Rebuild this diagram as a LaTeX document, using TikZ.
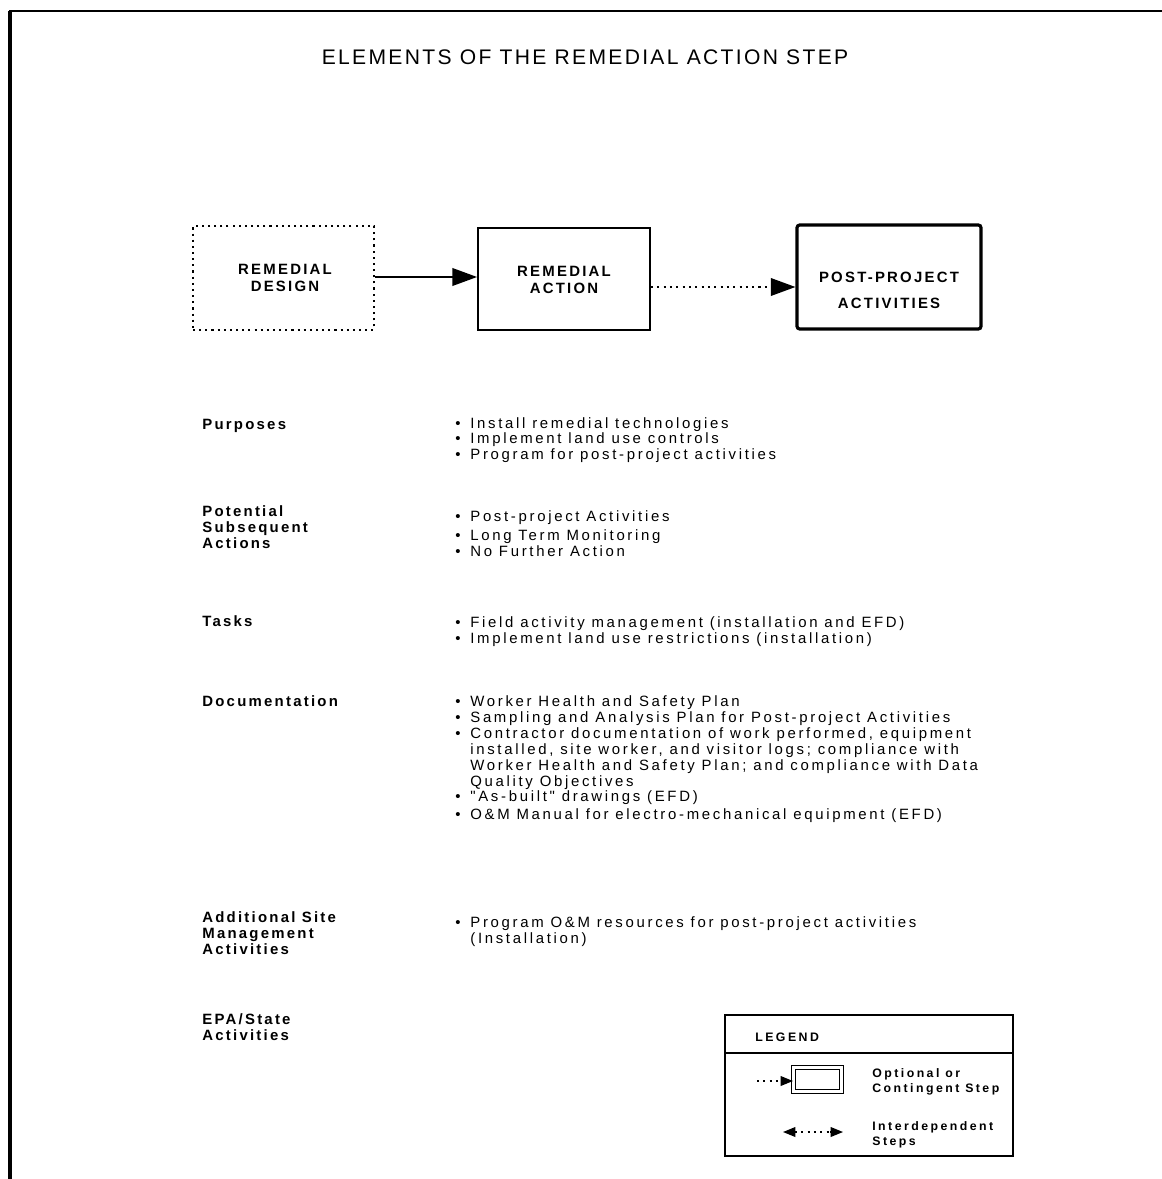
\documentclass[tikz,border=0pt]{standalone}
\usepackage{fontspec}
\setmainfont{Liberation Sans}
\newfontfamily\itemfont[LetterSpace=18]{Liberation Sans}
\newfontfamily\labelfont[LetterSpace=15]{Liberation Sans}
\newfontfamily\legfont[LetterSpace=20]{Liberation Sans}
\newfontfamily\titlefont[LetterSpace=11]{Liberation Sans}
\newfontfamily\boxfont[LetterSpace=15]{Liberation Sans}
\usetikzlibrary{arrows.meta}
\newcommand{\bl}{\llap{\textbullet\hspace{5.5pt}}}
\tikzset{
  itm/.style={anchor=base west, inner sep=0pt, font=\itemfont\fontsize{8.5}{9}\selectfont},
  lbl/.style={anchor=base west, inner sep=0pt, font=\labelfont\bfseries\fontsize{8.5}{9}\selectfont},
  legtxt/.style={anchor=base west, inner sep=0pt, font=\legfont\bfseries\fontsize{7}{8}\selectfont},
  boxtxt/.style={align=center, inner sep=0pt, font=\boxfont\bfseries\fontsize{8.5}{10}\selectfont},
  stepbox/.style={draw, line width=1.1pt, inner sep=0pt},
  optbox/.style={stepbox, line width=1.1pt, dash pattern=on 1.2pt off 2.3pt},
  postbox/.style={stepbox, line width=1.8pt, rounded corners=1.5pt},
  headarrow/.style={-{Triangle[length=14pt,width=10pt]}, line width=1pt},
  dotline/.style={line width=1.2pt, dash pattern=on 1.2pt off 2.4pt},
  smallhead/.style={-{Triangle[length=7pt,width=5.5pt]}},
}
\begin{document}
\begin{tikzpicture}[x=0.02cm, y=-0.02cm]
\useasboundingbox (0,0) rectangle (1162,1179);
% frame
\draw[line width=2.2pt] (10,1179) -- (10,11);
\draw[line width=1.7pt] (9,11) -- (1162,11);
% title
\node[font=\titlefont\fontsize{12}{14}\selectfont, inner sep=0pt] (title) at (585,57) {ELEMENTS OF THE REMEDIAL ACTION STEP};
% step boxes
\node[optbox, minimum width=3.62cm, minimum height=2.08cm] (rd) at (283.5,278) {};
\node[stepbox, minimum width=3.44cm, minimum height=2.04cm] (ra) at (564,279) {};
\node[postbox, minimum width=3.68cm, minimum height=2.08cm] (pp) at (889,277) {};
\node[boxtxt] (rdt) at (285,278) {REMEDIAL\\[-0.6pt]DESIGN};
\node[boxtxt] (rat) at (564,280) {REMEDIAL\\[-0.2pt]ACTION};
\node[boxtxt] (ppt) at (889,290) {POST-PROJECT\\[4.7pt]ACTIVITIES};
\draw[headarrow] (rd.east |- 0,277) -- (ra.west |- 0,277);
\draw[dotline] (ra.east |- 0,287) -- (776,287);
\draw[headarrow] (775,287) -- (pp.west |- 0,287);
% Purposes
\node[lbl] (l1) at (202,429) {Purposes};
\node[itm] (p1) at (470,428) {\bl Install remedial technologies};
\node[itm] (p2) at (470,443) {\bl Implement land use controls};
\node[itm] (p3) at (470,459) {\bl Program for post-project activities};
% Potential subsequent actions
\node[lbl] (l2a) at (202,516) {Potential};
\node[lbl] (l2b) at (202,532) {Subsequent};
\node[lbl] (l2c) at (202,548) {Actions};
\node[itm] (s1) at (470,521) {\bl Post-project Activities};
\node[itm] (s2) at (470,540) {\bl Long Term Monitoring};
\node[itm] (s3) at (470,556) {\bl No Further Action};
% Tasks
\node[lbl] (l3) at (202,626) {Tasks};
\node[itm] (t1) at (470,627) {\bl Field activity management (installation and EFD)};
\node[itm] (t2) at (470,643) {\bl Implement land use restrictions (installation)};
% Documentation
\node[lbl] (l4) at (202,706) {Documentation};
\node[itm] (d1) at (470,706) {\bl Worker Health and Safety Plan};
\node[itm] (d2) at (470,722) {\bl Sampling and Analysis Plan for Post-project Activities};
\node[itm] (d3) at (470,738) {\bl Contractor documentation of work performed, equipment};
\node[itm] (d3b) at (470,754) {installed, site worker, and visitor logs; compliance with};
\node[itm] (d3c) at (470,770) {Worker Health and Safety Plan; and compliance with Data};
\node[itm] (d3d) at (470,786) {Quality Objectives};
\node[itm] (d4) at (470,801) {\bl "As-built" drawings (EFD)};
\node[itm] (d5) at (470,819) {\bl O\&M Manual for electro-mechanical equipment (EFD)};
% Additional site management activities
\node[lbl] (l5a) at (202,922) {Additional Site};
\node[lbl] (l5b) at (202,938) {Management};
\node[lbl] (l5c) at (202,954) {Activities};
\node[itm] (a1) at (470,927) {\bl Program O\&M resources for post-project activities};
\node[itm] (a1b) at (470,943) {(Installation)};
% EPA/State
\node[lbl] (l6a) at (202,1024) {EPA/State};
\node[lbl] (l6b) at (202,1040) {Activities};
% legend
\node[draw, line width=1pt, minimum width=5.76cm, minimum height=2.82cm, inner sep=0pt] (leg) at (869,1085.5) {};
\draw[line width=1pt] (leg.west |- 0,1053) -- (leg.east |- 0,1053);
\node[legtxt] (legt) at (755,1041) {LEGEND};
\node[draw, double, line width=0.6pt, double distance=1.2pt, minimum width=0.96cm, minimum height=0.48cm, inner sep=0pt] (sr) at (817.5,1079.5) {};
\coordinate (sa) at (757,1081);
\draw[dotline, line width=1pt] (sa) -- (782,1081);
\draw[smallhead, line width=0.8pt] (781,1081) -- (sr.west |- 0,1081);
\node[legtxt] (lo1) at (872,1077) {Optional or};
\node[legtxt] (lo2) at (872,1092) {Contingent Step};
\coordinate (da) at (783,1132);
\coordinate (db) at (843,1132);
\draw[dotline, line width=1pt] (795,1132) -- (831,1132);
\draw[smallhead, line width=0.8pt] (796,1132) -- (da);
\draw[smallhead, line width=0.8pt] (830,1132) -- (db);
\node[legtxt] (li1) at (872,1130) {Interdependent};
\node[legtxt] (li2) at (872,1145) {Steps};
\end{tikzpicture}
\end{document}
